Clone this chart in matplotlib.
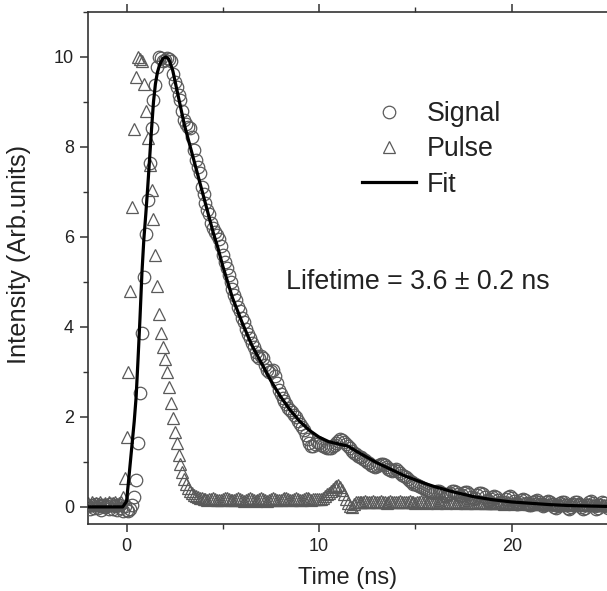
import numpy as np
import matplotlib
matplotlib.use("Agg")
import matplotlib.pyplot as plt
from matplotlib.ticker import MultipleLocator
from matplotlib.lines import Line2D

plt.rcParams['font.family'] = ['Liberation Sans', 'DejaVu Sans']

# ---------------- data ----------------
# sampling channels: -2.0 ns ... 25.0 ns, 0.1 ns apart
time_ns = np.round(np.arange(-2.0, 25.0001, 0.1), 1)

signal = [
    0.02, -0.05, 0.04, -0.03, 0.06, -0.02, 0.03, -0.06, 0.05, -0.01,   # -2.0
    0.03, -0.04, 0.06, -0.05, 0.02, -0.07, 0.04, -0.03, -0.08, 0.01,   # -1.0
    -0.06, -0.09, -0.05, 0.05, 0.22, 0.6, 1.42, 2.53, 3.87, 5.1,       # 0.0
    6.07, 6.82, 7.64, 8.42, 9.05, 9.38, 9.78, 10.0, 9.97, 9.9,         # 1.0
    9.93, 9.97, 9.96, 9.9, 9.62, 9.45, 9.33, 9.15, 9.04, 8.8,          # 2.0
    8.6, 8.5, 8.45, 8.42, 8.22, 7.93, 7.7, 7.55, 7.42, 7.11,           # 3.0
    6.95, 6.75, 6.6, 6.5, 6.31, 6.2, 6.1, 6.05, 5.95, 5.8,             # 4.0
    5.6, 5.45, 5.3, 5.15, 5.0, 4.85, 4.7, 4.6, 4.45, 4.35,             # 5.0
    4.2, 4.1, 3.95, 3.85, 3.75, 3.65, 3.55, 3.45, 3.35, 3.3,           # 6.0
    3.35, 3.3, 3.15, 3.05, 3.0, 3.02, 3.04, 2.9, 2.75, 2.6,            # 7.0
    2.5, 2.42, 2.35, 2.28, 2.2, 2.15, 2.1, 2.05, 2.0, 1.92,            # 8.0
    1.85, 1.78, 1.7, 1.6, 1.5, 1.42, 1.35, 1.36, 1.4, 1.45,            # 9.0
    1.43, 1.38, 1.35, 1.33, 1.3, 1.3, 1.32, 1.35, 1.38, 1.42,          # 10.0
    1.47, 1.5, 1.49, 1.45, 1.4, 1.36, 1.3, 1.24, 1.2, 1.17,            # 11.0
    1.14, 1.12, 1.1, 1.07, 1.04, 1.0, 0.97, 0.94, 0.9, 0.88,           # 12.0
    0.9, 0.93, 0.95, 0.96, 0.93, 0.89, 0.85, 0.82, 0.8, 0.82,          # 13.0
    0.84, 0.8, 0.76, 0.72, 0.68, 0.66, 0.62, 0.58, 0.55, 0.5,          # 14.0
    0.5, 0.48, 0.47, 0.45, 0.42, 0.4, 0.38, 0.35, 0.33, 0.32,          # 15.0
    0.33, 0.35, 0.36, 0.34, 0.3, 0.27, 0.25, 0.28, 0.32, 0.35,         # 16.0
    0.36, 0.33, 0.28, 0.24, 0.27, 0.32, 0.34, 0.33, 0.28, 0.22,        # 17.0
    0.18, 0.2, 0.26, 0.3, 0.31, 0.28, 0.22, 0.16, 0.14, 0.18,          # 18.0
    0.22, 0.25, 0.22, 0.16, 0.1, 0.08, 0.12, 0.18, 0.22, 0.24,         # 19.0
    0.2, 0.14, 0.08, 0.06, 0.1, 0.15, 0.18, 0.15, 0.09, 0.04,          # 20.0
    0.05, 0.1, 0.14, 0.16, 0.12, 0.06, 0.02, 0.04, 0.1, 0.14,          # 21.0
    0.12, 0.06, 0.0, -0.02, 0.03, 0.09, 0.12, 0.1, 0.04, -0.02,        # 22.0
    -0.04, 0.0, 0.06, 0.1, 0.12, 0.07, 0.0, -0.05, -0.03, 0.04,        # 23.0
    0.1, 0.13, 0.08, 0.01, -0.04, -0.02, 0.05, 0.1, 0.08, 0.02,        # 24.0
    -0.02,                                                             # 25.0
]

pulse = [
    0.08, 0.05, 0.1, 0.06, 0.09, 0.04, 0.1, 0.07, 0.05, 0.09,          # -2.0
    0.06, 0.1, 0.05, 0.08, 0.11, 0.06, 0.09, 0.12, 0.22, 0.64,         # -1.0
    1.56, 3.0, 4.8, 6.67, 8.4, 9.55, 10.0, 9.95, 9.9, 9.4,             # 0.0
    8.8, 8.2, 7.6, 7.05, 6.4, 5.6, 4.9, 4.29, 3.87, 3.56,              # 1.0
    3.28, 3.0, 2.67, 2.3, 1.97, 1.67, 1.42, 1.16, 0.95, 0.78,          # 2.0
    0.62, 0.5, 0.42, 0.35, 0.3, 0.27, 0.24, 0.22, 0.2, 0.19,           # 3.0
    0.18, 0.17, 0.16, 0.17, 0.18, 0.19, 0.17, 0.16, 0.15, 0.16,        # 4.0
    0.17, 0.19, 0.2, 0.18, 0.16, 0.15, 0.16, 0.18, 0.19, 0.17,         # 5.0
    0.15, 0.14, 0.16, 0.18, 0.19, 0.17, 0.15, 0.14, 0.16, 0.18,        # 6.0
    0.19, 0.18, 0.16, 0.14, 0.15, 0.17, 0.19, 0.18, 0.16, 0.15,        # 7.0
    0.16, 0.18, 0.2, 0.19, 0.17, 0.15, 0.16, 0.18, 0.19, 0.18,         # 8.0
    0.16, 0.15, 0.17, 0.19, 0.2, 0.18, 0.16, 0.17, 0.18, 0.17,         # 9.0
    0.17, 0.18, 0.2, 0.24, 0.28, 0.32, 0.36, 0.4, 0.44, 0.47,          # 10.0
    0.48, 0.45, 0.38, 0.28, 0.18, 0.08, 0.02, 0.0, 0.06, 0.1,          # 11.0
    0.12, 0.11, 0.1, 0.12, 0.13, 0.11, 0.1, 0.12, 0.13, 0.12,          # 12.0
    0.1, 0.11, 0.13, 0.12, 0.1, 0.09, 0.11, 0.13, 0.12, 0.1,           # 13.0
    0.11, 0.12, 0.13, 0.11, 0.1, 0.11, 0.12, 0.13, 0.11, 0.1,          # 14.0
    0.09, 0.11, 0.12, 0.13, 0.11, 0.1, 0.09, 0.11, 0.12, 0.11,         # 15.0
    0.1, 0.09, 0.11, 0.12, 0.11, 0.1, 0.09, 0.1, 0.12, 0.11,           # 16.0
    0.1, 0.09, 0.1, 0.11, 0.12, 0.1, 0.09, 0.08, 0.1, 0.11,            # 17.0
    0.1, 0.09, 0.08, 0.1, 0.11, 0.1, 0.09, 0.08, 0.09, 0.1,            # 18.0
    0.09, 0.08, 0.09, 0.1, 0.09, 0.08, 0.07, 0.09, 0.1, 0.09,          # 19.0
    0.08, 0.07, 0.08, 0.09, 0.08, 0.07, 0.08, 0.09, 0.08, 0.07,        # 20.0
    0.06, 0.08, 0.09, 0.08, 0.07, 0.06, 0.07, 0.08, 0.07, 0.06,        # 21.0
    0.07, 0.08, 0.07, 0.06, 0.05, 0.07, 0.08, 0.07, 0.06, 0.05,        # 22.0
    0.06, 0.07, 0.06, 0.05, 0.06, 0.07, 0.06, 0.05, 0.04, 0.06,        # 23.0
    0.07, 0.06, 0.05, 0.04, 0.06, 0.07, 0.06, 0.05, 0.04, 0.05,        # 24.0
    0.06,                                                              # 25.0
]

fit_t = [-2.0, -0.2, 0.0, 0.1, 0.2, 0.3, 0.4, 0.5, 0.6, 0.7, 0.8, 0.9, 1.0,
         1.1, 1.2, 1.3, 1.4, 1.5, 1.6, 1.7, 1.8, 1.9, 2.05, 2.2, 2.4, 2.6,
         2.8, 3.0, 3.25, 3.5, 3.75, 4.0, 4.25, 4.5, 4.75, 5.0, 5.5, 6.0,
         6.5, 7.0, 7.5, 8.0, 8.5, 9.0, 9.5, 10.0, 10.5, 11.0, 11.5, 12.0,
         12.5, 13.0, 13.5, 14.0, 14.5, 15.0, 15.5, 16.0, 16.5, 17.0, 17.5,
         18.0, 19.0, 20.0, 21.0, 22.0, 23.0, 24.0, 25.0]
fit_y = [0.0, 0.0, 0.12, 0.55, 1.0, 1.45, 1.9, 2.45, 3.3, 4.2, 5.2, 5.95,
         6.5, 7.1, 7.75, 8.4, 9.0, 9.4, 9.65, 9.8, 9.9, 9.97, 10.0, 9.95,
         9.7, 9.3, 8.9, 8.5, 8.1, 7.7, 7.3, 6.9, 6.5, 6.1, 5.75, 5.35, 4.65,
         4.1, 3.6, 3.2, 2.8, 2.45, 2.15, 1.9, 1.7, 1.55, 1.45, 1.4, 1.35,
         1.22, 1.1, 0.98, 0.88, 0.78, 0.68, 0.6, 0.52, 0.45, 0.39, 0.33,
         0.28, 0.23, 0.16, 0.11, 0.08, 0.05, 0.03, 0.02, 0.01]

x_ticks = [0, 10, 20]
y_ticks = [0, 2, 4, 6, 8, 10]
lifetime_text = "Lifetime = 3.6 \u00b1 0.2 ns"

# ---------------- figure ----------------
W, H = 607, 591
fig = plt.figure(figsize=(W / 100, H / 100), dpi=100)
L, R, T, B = 88, 608, 12, 524
ax = fig.add_axes([L / W, 1 - B / H, (R - L) / W, (B - T) / H])

mk_edge = '#5a5a5a'
ax.plot(time_ns, pulse, linestyle='none', marker='^', markersize=9,
        markerfacecolor='none', markeredgecolor=mk_edge, markeredgewidth=0.9,
        label='Pulse', zorder=2)
ax.plot(time_ns, signal, linestyle='none', marker='o', markersize=9,
        markerfacecolor='none', markeredgecolor=mk_edge, markeredgewidth=0.9,
        label='Signal', zorder=3)
ax.plot(fit_t, fit_y, color='black', linewidth=2.3, label='Fit', zorder=4)

ax.set_xlim(-2.0, 25.0)
ax.set_ylim(-0.38, 11.0)
ax.set_xticks(x_ticks)
ax.set_yticks(y_ticks)
ax.xaxis.set_minor_locator(MultipleLocator(5))
ax.yaxis.set_minor_locator(MultipleLocator(1))

for s in ['left', 'bottom', 'top']:
    ax.spines[s].set_linewidth(1.2)
    ax.spines[s].set_color('#333333')
ax.spines['right'].set_visible(False)

ax.tick_params(axis='both', which='major', direction='out', length=6,
               width=1.1, color='#333333', labelsize=13, pad=4,
               labelcolor='#222222')
ax.tick_params(axis='both', which='minor', direction='out', length=3.5,
               width=1.0, color='#333333')
ax.tick_params(axis='x', which='both', top=True, labeltop=False)

ax.set_xlabel('Time (ns)', fontsize=17, color='#222222', labelpad=9)
ax.set_ylabel('Intensity (Arb.units)', fontsize=18.3, color='#222222')
ax.yaxis.set_label_coords((31 - L) / (R - L), 1 - (254 - T) / (B - T))

ax.text(15.15, 5.0, lifetime_text, fontsize=19.3, ha='center', va='center',
        color='#222222')

handles = [
    Line2D([], [], linestyle='none', marker='o', markersize=9,
           markerfacecolor='none', markeredgecolor=mk_edge,
           markeredgewidth=0.9),
    Line2D([], [], linestyle='none', marker='^', markersize=9,
           markerfacecolor='none', markeredgecolor=mk_edge,
           markeredgewidth=0.9),
    Line2D([], [], color='black', linewidth=2.3),
]
leg = ax.legend(handles, ['Signal', 'Pulse', 'Fit'], loc='upper left',
                bbox_to_anchor=((362 - L) / (R - L), 1 - (101 - T) / (B - T)),
                frameon=False, fontsize=19.3, handlelength=2.0,
                handletextpad=0.42, labelspacing=0.35, borderpad=0,
                borderaxespad=0)
for t in leg.get_texts():
    t.set_color('#222222')

fig.savefig('out.png', dpi=100)
